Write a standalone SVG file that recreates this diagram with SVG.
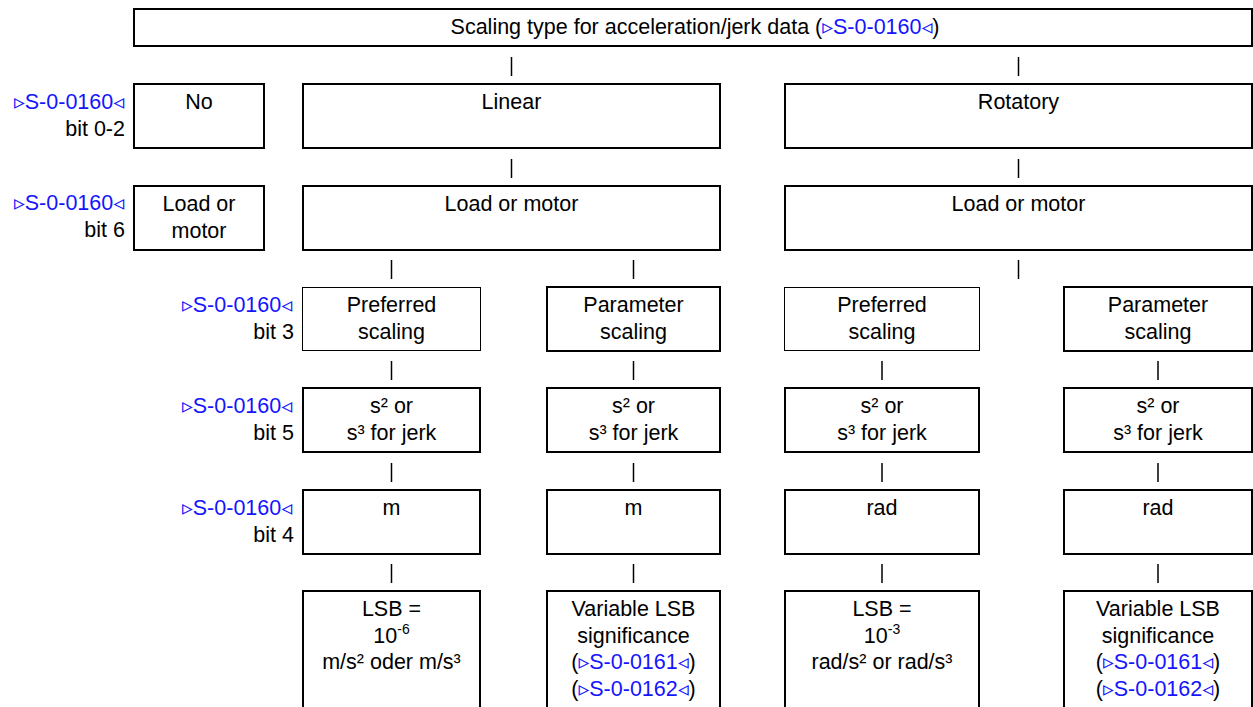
<svg xmlns="http://www.w3.org/2000/svg" width="1253" height="707" viewBox="0 0 1253 707">
<style>
.b{fill:#fff;stroke:#000;stroke-width:2}
.thin{stroke-width:1}
text{font-family:"Liberation Sans",Arial,"DejaVu Sans",sans-serif;font-size:21.5px;fill:#000}
.c{text-anchor:middle}
.r{text-anchor:end}
.lk{fill:#1414ff}
.tri{font-size:23px}
.sup{font-size:14px}
.con line{stroke:#000;stroke-width:1.5}
</style>
<rect width="1253" height="707" fill="#fff"/>

<g id="connectors" class="con">
<line x1="511.5" y1="57" x2="511.5" y2="76"/>
<line x1="1018.5" y1="57" x2="1018.5" y2="76"/>
<line x1="511.5" y1="159" x2="511.5" y2="178"/>
<line x1="1018.5" y1="159" x2="1018.5" y2="178"/>
<line x1="391.5" y1="260" x2="391.5" y2="279"/>
<line x1="633.5" y1="260" x2="633.5" y2="279"/>
<line x1="1018.5" y1="260" x2="1018.5" y2="279"/>
<line x1="391.5" y1="361" x2="391.5" y2="380"/>
<line x1="633.5" y1="361" x2="633.5" y2="380"/>
<line x1="882" y1="361" x2="882" y2="380"/>
<line x1="1158" y1="361" x2="1158" y2="380"/>
<line x1="391.5" y1="463" x2="391.5" y2="482"/>
<line x1="633.5" y1="463" x2="633.5" y2="482"/>
<line x1="882" y1="463" x2="882" y2="482"/>
<line x1="1158" y1="463" x2="1158" y2="482"/>
<line x1="391.5" y1="564" x2="391.5" y2="583"/>
<line x1="633.5" y1="564" x2="633.5" y2="583"/>
<line x1="882" y1="564" x2="882" y2="583"/>
<line x1="1158" y1="564" x2="1158" y2="583"/>
</g>

<g id="labels">
<text class="r lk" x="124" y="109">▹S-0-0160◃</text>
<text class="r" x="125" y="135.5">bit 0-2</text>
<text class="r lk" x="124" y="210">▹S-0-0160◃</text>
<text class="r" x="125" y="236.5">bit 6</text>
<text class="r lk" x="292" y="312">▹S-0-0160◃</text>
<text class="r" x="294" y="338.5">bit 3</text>
<text class="r lk" x="292" y="413">▹S-0-0160◃</text>
<text class="r" x="294" y="439.5">bit 5</text>
<text class="r lk" x="292" y="515">▹S-0-0160◃</text>
<text class="r" x="294" y="541.5">bit 4</text>
</g>

<g id="n-top">
<rect class="b" x="134" y="9" width="1118" height="37"/>
<text class="c" x="695" y="34">Scaling type for acceleration/jerk data (<tspan class="lk">▹S-0-0160◃</tspan>)</text>
</g>

<g id="n-no">
<rect class="b" x="134" y="84" width="130" height="64"/>
<text class="c" x="199" y="109">No</text>
</g>
<g id="n-linear">
<rect class="b" x="303" y="84" width="417" height="64"/>
<text class="c" x="511.5" y="109">Linear</text>
</g>
<g id="n-rotatory">
<rect class="b" x="785" y="84" width="467" height="64"/>
<text class="c" x="1018.5" y="109">Rotatory</text>
</g>

<g id="n-loadmotor-left">
<rect class="b" x="134" y="186" width="130" height="64"/>
<text class="c" x="199" y="211">Load or</text>
<text class="c" x="199" y="237.5">motor</text>
</g>
<g id="n-loadmotor-linear">
<rect class="b" x="303" y="186" width="417" height="64"/>
<text class="c" x="511.5" y="211">Load or motor</text>
</g>
<g id="n-loadmotor-rotatory">
<rect class="b" x="785" y="186" width="467" height="64"/>
<text class="c" x="1018.5" y="211">Load or motor</text>
</g>

<g id="n-pref-lin">
<rect class="b thin" x="302.5" y="287.5" width="178" height="63"/>
<text class="c" x="391.5" y="312">Preferred</text>
<text class="c" x="391.5" y="338.5">scaling</text>
</g>
<g id="n-param-lin">
<rect class="b" x="547" y="287" width="173" height="64"/>
<text class="c" x="633.5" y="312">Parameter</text>
<text class="c" x="633.5" y="338.5">scaling</text>
</g>
<g id="n-pref-rot">
<rect class="b thin" x="784.5" y="287.5" width="195" height="63"/>
<text class="c" x="882" y="312">Preferred</text>
<text class="c" x="882" y="338.5">scaling</text>
</g>
<g id="n-param-rot">
<rect class="b" x="1064" y="287" width="188" height="64"/>
<text class="c" x="1158" y="312">Parameter</text>
<text class="c" x="1158" y="338.5">scaling</text>
</g>

<g id="n-s-1">
<rect class="b" x="303" y="388" width="177" height="64"/>
<text class="c" x="391.5" y="413">s² or</text>
<text class="c" x="391.5" y="439.5">s³ for jerk</text>
</g>
<g id="n-s-2">
<rect class="b" x="547" y="388" width="173" height="64"/>
<text class="c" x="633.5" y="413">s² or</text>
<text class="c" x="633.5" y="439.5">s³ for jerk</text>
</g>
<g id="n-s-3">
<rect class="b" x="785" y="388" width="194" height="64"/>
<text class="c" x="882" y="413">s² or</text>
<text class="c" x="882" y="439.5">s³ for jerk</text>
</g>
<g id="n-s-4">
<rect class="b" x="1064" y="388" width="188" height="64"/>
<text class="c" x="1158" y="413">s² or</text>
<text class="c" x="1158" y="439.5">s³ for jerk</text>
</g>

<g id="n-u-1">
<rect class="b" x="303" y="490" width="177" height="64"/>
<text class="c" x="391.5" y="515">m</text>
</g>
<g id="n-u-2">
<rect class="b" x="547" y="490" width="173" height="64"/>
<text class="c" x="633.5" y="515">m</text>
</g>
<g id="n-u-3">
<rect class="b" x="785" y="490" width="194" height="64"/>
<text class="c" x="882" y="515">rad</text>
</g>
<g id="n-u-4">
<rect class="b" x="1064" y="490" width="188" height="64"/>
<text class="c" x="1158" y="515">rad</text>
</g>

<g id="n-lsb-1">
<rect class="b" x="303" y="591" width="177" height="130"/>
<text class="c" x="391.5" y="616">LSB =</text>
<text class="c" x="391.5" y="643">10<tspan class="sup" dy="-9">-6</tspan></text>
<text class="c" x="391.5" y="669">m/s² oder m/s³</text>
</g>
<g id="n-lsb-2">
<rect class="b" x="547" y="591" width="173" height="130"/>
<text class="c" x="633.5" y="616">Variable LSB</text>
<text class="c" x="633.5" y="642.5">significance</text>
<text class="c" x="633.5" y="669">(<tspan class="lk">▹S-0-0161◃</tspan>)</text>
<text class="c" x="633.5" y="695.5">(<tspan class="lk">▹S-0-0162◃</tspan>)</text>
</g>
<g id="n-lsb-3">
<rect class="b" x="785" y="591" width="194" height="130"/>
<text class="c" x="882" y="616">LSB =</text>
<text class="c" x="882" y="643">10<tspan class="sup" dy="-9">-3</tspan></text>
<text class="c" x="882" y="669">rad/s² or rad/s³</text>
</g>
<g id="n-lsb-4">
<rect class="b" x="1064" y="591" width="188" height="130"/>
<text class="c" x="1158" y="616">Variable LSB</text>
<text class="c" x="1158" y="642.5">significance</text>
<text class="c" x="1158" y="669">(<tspan class="lk">▹S-0-0161◃</tspan>)</text>
<text class="c" x="1158" y="695.5">(<tspan class="lk">▹S-0-0162◃</tspan>)</text>
</g>
</svg>
